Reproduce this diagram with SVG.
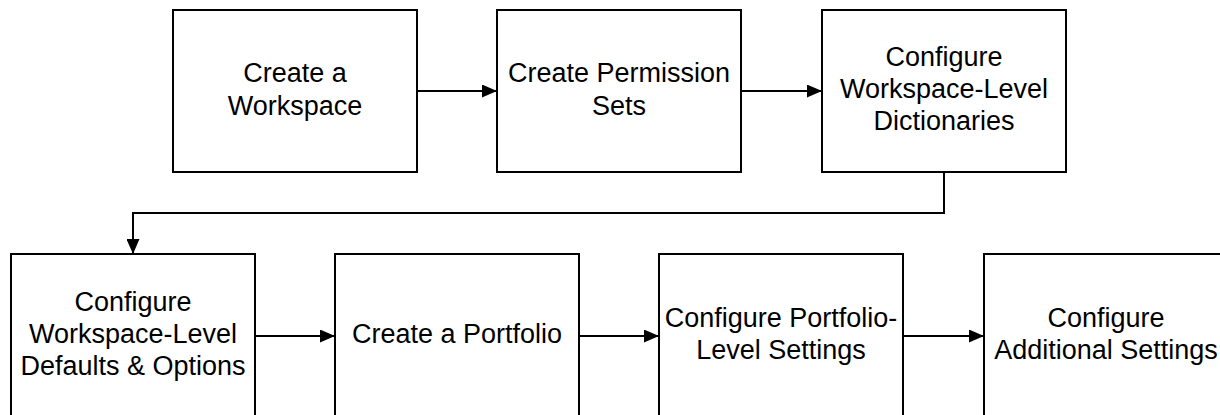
<svg xmlns="http://www.w3.org/2000/svg" width="1220" height="415" viewBox="0 0 1220 415">
  <style>
    .box { fill: #ffffff; stroke: #000000; stroke-width: 2; }
    .lbl { font-family: "Liberation Sans", Arial, sans-serif; font-size: 27px; fill: #000000; text-anchor: middle; }
    .edge { fill: none; stroke: #000000; stroke-width: 2; }
  </style>
  <defs>
    <marker id="arrow" viewBox="0 0 15 13" refX="15" refY="6.5" markerWidth="15" markerHeight="13" markerUnits="userSpaceOnUse" orient="auto">
      <path d="M0,0 L15,6.5 L0,13 Z" fill="#000000"/>
    </marker>
  </defs>
  <rect width="1220" height="415" fill="#ffffff"/>

  <g id="connectors">
    <line class="edge" x1="417" y1="91" x2="497" y2="91" marker-end="url(#arrow)"/>
    <line class="edge" x1="741" y1="91" x2="822" y2="91" marker-end="url(#arrow)"/>
    <polyline class="edge" points="944,172 944,213 133,213 133,254" marker-end="url(#arrow)"/>
    <line class="edge" x1="254" y1="336" x2="335" y2="336" marker-end="url(#arrow)"/>
    <line class="edge" x1="579" y1="336" x2="659" y2="336" marker-end="url(#arrow)"/>
    <line class="edge" x1="903" y1="336" x2="984" y2="336" marker-end="url(#arrow)"/>
  </g>

  <g id="node-create-workspace">
    <rect class="box" x="173" y="10" width="244" height="162"/>
    <text class="lbl" x="295" y="82">Create a</text>
    <text class="lbl" x="295" y="115">Workspace</text>
  </g>

  <g id="node-permission-sets">
    <rect class="box" x="497" y="10" width="244" height="162"/>
    <text class="lbl" x="619" y="82">Create Permission</text>
    <text class="lbl" x="619" y="115">Sets</text>
  </g>

  <g id="node-workspace-dictionaries">
    <rect class="box" x="822" y="10" width="244" height="162"/>
    <text class="lbl" x="944" y="66">Configure</text>
    <text class="lbl" x="944" y="98">Workspace-Level</text>
    <text class="lbl" x="944" y="130">Dictionaries</text>
  </g>

  <g id="node-workspace-defaults">
    <rect class="box" x="11" y="254" width="244" height="162"/>
    <text class="lbl" x="133" y="311">Configure</text>
    <text class="lbl" x="133" y="343">Workspace-Level</text>
    <text class="lbl" x="133" y="375">Defaults &amp; Options</text>
  </g>

  <g id="node-create-portfolio">
    <rect class="box" x="335" y="254" width="244" height="162"/>
    <text class="lbl" x="457" y="343">Create a Portfolio</text>
  </g>

  <g id="node-portfolio-settings">
    <rect class="box" x="659" y="254" width="244" height="162"/>
    <text class="lbl" x="781" y="327">Configure Portfolio-</text>
    <text class="lbl" x="781" y="359">Level Settings</text>
  </g>

  <g id="node-additional-settings">
    <rect class="box" x="984" y="254" width="244" height="162"/>
    <text class="lbl" x="1106" y="327">Configure</text>
    <text class="lbl" x="1106" y="359">Additional Settings</text>
  </g>
</svg>
